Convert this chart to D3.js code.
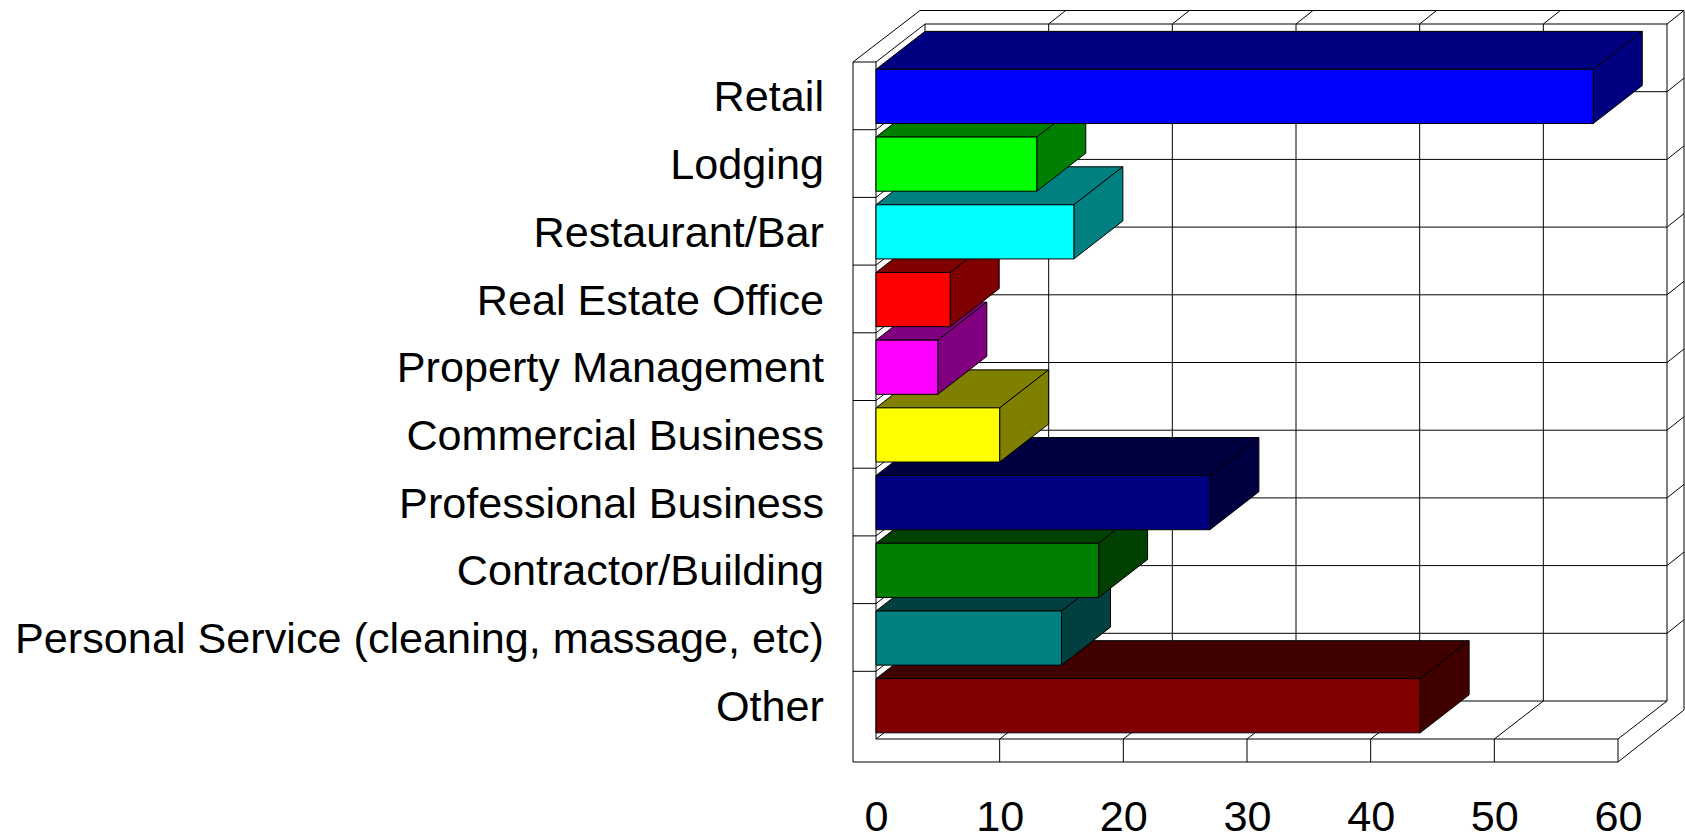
<!DOCTYPE html>
<html lang="en">
<head>
    <meta charset="UTF-8">
    <title>Business types</title>
    <script src="https://d3js.org/d3.v7.min.js"></script>
    <style>
        html, body { margin: 0; background: #ffffff; overflow: hidden; }
        svg { display: block; }
        text { font-family: "Liberation Sans", Arial, sans-serif; fill: #000; }
        .frame { fill: none; stroke: #000; stroke-width: 1; }
        .bar path { stroke: #000; stroke-width: 1; stroke-linejoin: round; }
    </style>
</head>
<body>
    <div id="chart"></div>
    <script>
        let categories = ["Retail", "Lodging", "Restaurant/Bar", "Real Estate Office", "Property Management",
            "Commercial Business", "Professional Business", "Contractor/Building",
            "Personal Service (cleaning, massage, etc)", "Other"];
        let values = [58, 13, 16, 6, 5, 10, 27, 18, 15, 44];
        let frontColors = ["#0000ff", "#00ff00", "#00ffff", "#ff0000", "#ff00ff", "#ffff00", "#000080", "#008000", "#008080", "#800000"];
        let shadeColors = ["#000080", "#008000", "#008080", "#800000", "#800080", "#808000", "#000040", "#004000", "#004040", "#400000"];
        let xTicks = [0, 10, 20, 30, 40, 50, 60];

        let width = 1685, height = 835;
        // depth of the 3d box, and the extra skew of the outer slab
        let depthX = 49, depthY = 38;
        let wallX = 23, wallY = 23;
        let outerX = 17, outerY = 13.5;
        let barShift = 0.6;

        let x = d3.scaleLinear().domain([0, 60]).range([876, 1618]);
        let y = d3.scaleBand().domain(categories).range([62, 739]).paddingInner(0.2).paddingOuter(0.1);

        let svg = d3.select("#chart").append("svg")
            .attr("width", width)
            .attr("height", height);

        let x0 = x(0), x1 = x(60), plotTop = y.range()[0], plotBottom = y.range()[1];
        let backTop = plotTop - depthY, backBottom = plotBottom - depthY;
        let frame = d3.path();
        function seg(ax, ay, bx, by) {
            frame.moveTo(ax, ay);
            frame.lineTo(bx, by);
        }

        // left slab and floor slab outlines
        seg(x0 - wallX, plotTop, x0 - wallX, plotBottom + wallY);
        seg(x0 - wallX, plotBottom + wallY, x1, plotBottom + wallY);
        seg(x1, plotBottom, x1, plotBottom + wallY);
        seg(x0 - wallX, plotTop, x0, plotTop);
        seg(x0, plotTop, x0, plotBottom);
        seg(x0, plotBottom, x1, plotBottom);
        // back wall
        seg(x0 + depthX, backTop, x1 + depthX, backTop);
        seg(x0 + depthX, backTop, x0 + depthX, backBottom);
        seg(x1 + depthX, backTop, x1 + depthX, backBottom);
        seg(x0 + depthX, backBottom, x1 + depthX, backBottom);
        seg(x0, plotTop, x0 + depthX, backTop);
        seg(x0, plotBottom, x0 + depthX, backBottom);
        seg(x1, plotBottom, x1 + depthX, backBottom);
        // outer top and right edges
        seg(x0 - wallX, plotTop, x0 + depthX - 5, backTop - outerY);
        seg(x0 + depthX - 5, backTop - outerY, x1 + depthX + outerX, backTop - outerY);
        seg(x1 + depthX, backTop, x1 + depthX + outerX, backTop - outerY);
        seg(x1 + depthX + outerX, backTop - outerY, x1 + depthX + outerX, backBottom + 9);
        seg(x1 + depthX + outerX, backBottom + 9, x1, plotBottom + wallY);

        // value grid lines, skipping the box edges
        xTicks.slice(1, -1).forEach(t => {
            seg(x(t), plotBottom + wallY, x(t), plotBottom);
            seg(x(t), plotBottom, x(t) + depthX, backBottom);
            seg(x(t) + depthX, backBottom, x(t) + depthX, backTop);
            seg(x(t) + depthX, backTop, x(t) + depthX + outerX, backTop - outerY);
        });

        // category grid lines
        categories.slice(1).forEach(c => {
            let gy = y(c) - y.step() * y.paddingInner() / 2;
            seg(x0 - wallX, gy, x0, gy);
            seg(x0, gy, x0 + depthX, gy - depthY);
            seg(x0 + depthX, gy - depthY, x1 + depthX, gy - depthY);
            seg(x1 + depthX, gy - depthY, x1 + depthX + outerX, gy - depthY - outerY);
        });

        svg.append("path").attr("class", "frame").attr("d", frame.toString());

        // bars painted from the bottom up, the upper bar covers the top of the lower one
        let rows = categories.map((c, i) => ({ c: c, v: values[i], front: frontColors[i], shade: shadeColors[i] })).reverse();
        let line = d3.line();

        let bars = svg.selectAll(".bar")
            .data(rows)
            .enter()
            .append("g")
            .attr("class", "bar")
            .attr("transform", "translate(0," + barShift + ")");

        bars.append("path")
            .attr("fill", d => d.shade)
            .attr("d", d => {
                let l = x(0), r = x(d.v), t = y(d.c);
                return line([[l, t], [l + depthX, t - depthY], [r + depthX, t - depthY], [r, t]]) + "Z";
            });
        bars.append("path")
            .attr("fill", d => d.shade)
            .attr("d", d => {
                let r = x(d.v), t = y(d.c), b = t + y.bandwidth();
                return line([[r, t], [r + depthX, t - depthY], [r + depthX, b - depthY], [r, b]]) + "Z";
            });
        bars.append("path")
            .attr("fill", d => d.front)
            .attr("d", d => {
                let l = x(0), r = x(d.v), t = y(d.c), b = t + y.bandwidth();
                return line([[l, t], [r, t], [r, b], [l, b]]) + "Z";
            });

        // axes only carry the text here, the box is drawn above
        let yAxis = svg.append("g")
            .attr("transform", "translate(" + (x0 - 52) + ",0.5)")
            .call(d3.axisLeft(y).tickSize(0).tickPadding(0));
        yAxis.select(".domain").remove();
        yAxis.selectAll("text").style("font-size", "43.2px").attr("dy", "0.35em");
        yAxis.attr("font-family", null);

        let xAxis = svg.append("g")
            .attr("transform", "translate(0,800)")
            .call(d3.axisBottom(x).tickValues(xTicks).tickSize(0).tickPadding(0));
        xAxis.select(".domain").remove();
        xAxis.selectAll("text").style("font-size", "43.2px").attr("dy", "0.71em");
        xAxis.attr("font-family", null);
    </script>
</body>
</html>
